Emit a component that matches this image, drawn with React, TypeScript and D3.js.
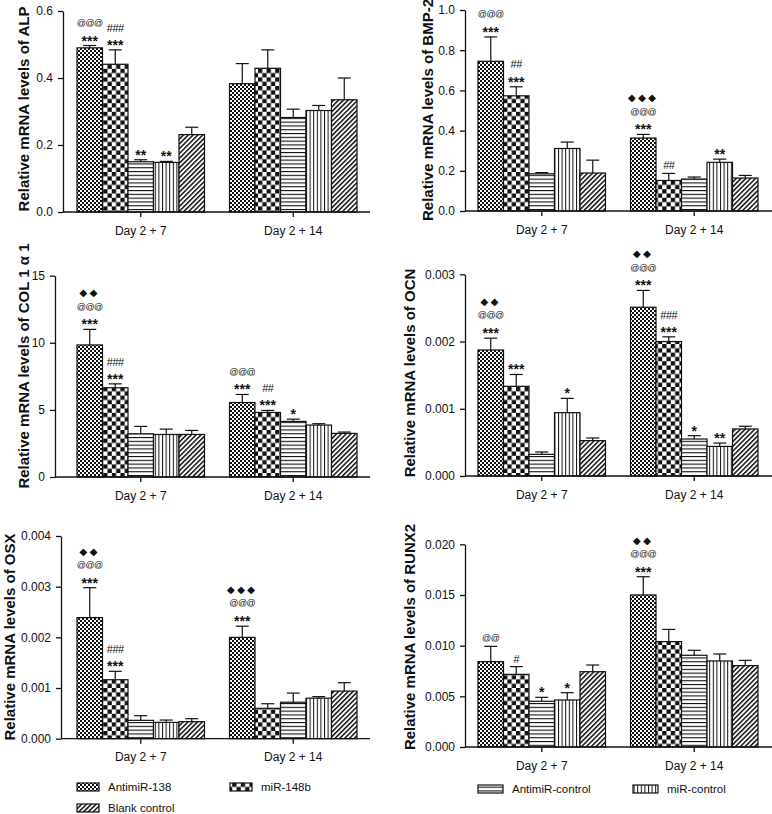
import React, { useEffect, useRef } from "react";
import * as d3 from "d3";

const groups = ["Day 2 + 7", "Day 2 + 14"];
const seriesNames = ["AntimiR-138", "miR-148b", "AntimiR-control", "miR-control", "Blank control"];

// rows = groups, columns = series
const alpMean = [[0.49, 0.441, 0.15, 0.148, 0.231], [0.383, 0.429, 0.282, 0.303, 0.335]];
const alpSem = [[0.007, 0.043, 0.006, 0.003, 0.022], [0.06, 0.055, 0.025, 0.015, 0.065]];
const alpMarks = [[["***", "@@@"], ["***", "###"], ["**"], ["**"], []], [[], [], [], [], []]];
const alpTicks = [0, 0.2, 0.4, 0.6];

const bmpMean = [[0.745, 0.573, 0.185, 0.311, 0.189], [0.363, 0.152, 0.159, 0.242, 0.164]];
const bmpSem = [[0.121, 0.045, 0.006, 0.032, 0.064], [0.018, 0.035, 0.01, 0.016, 0.013]];
const bmpMarks = [[["***", "@@@"], ["***", "##"], [], [], []], [["***", "@@@", "◆◆◆"], ["##"], [], ["**"], []]];
const bmpTicks = [0, 0.2, 0.4, 0.6, 0.8, 1.0];

const colMean = [[9.84, 6.65, 3.22, 3.17, 3.17], [5.55, 4.81, 4.14, 3.87, 3.25]];
const colSem = [[1.16, 0.29, 0.55, 0.4, 0.3], [0.6, 0.15, 0.17, 0.1, 0.1]];
const colMarks = [[["***", "@@@", "◆◆"], ["***", "###"], [], [], []], [["***", "@@@"], ["***", "##"], ["*"], [], []]];
const colTicks = [0, 5, 10, 15];

const ocnMean = [[0.001874, 0.001334, 0.000322, 0.000942, 0.000526], [0.00251, 0.002, 0.00055, 0.00044, 0.0007]];
const ocnSem = [[0.000176, 0.000176, 0.000035, 0.000213, 0.000039], [0.00025, 0.00007, 0.00005, 0.00005, 0.00004]];
const ocnMarks = [[["***", "@@@", "◆◆"], ["***"], [], ["*"], []], [["***", "@@@", "◆◆"], ["***", "###"], ["*"], ["**"], []]];
const ocnTicks = [0, 0.001, 0.002, 0.003];

const osxMean = [[0.00239, 0.001164, 0.000362, 0.000322, 0.000336], [0.002, 0.0006, 0.00072, 0.0008, 0.00094]];
const osxSem = [[0.00059, 0.000166, 0.000092, 0.000046, 0.000059], [0.00022, 0.00009, 0.00018, 0.00003, 0.000165]];
const osxMarks = [[["***", "@@@", "◆◆"], ["***", "###"], [], [], []], [["***", "@@@", "◆◆◆"], [], [], [], []]];
const osxTicks = [0, 0.001, 0.002, 0.003, 0.004];

const runxMean = [[0.00842, 0.00717, 0.00451, 0.00464, 0.00743], [0.015, 0.0104, 0.00905, 0.00849, 0.00803]];
const runxSem = [[0.00151, 0.00076, 0.00039, 0.00072, 0.00066], [0.0018, 0.0012, 0.00049, 0.00069, 0.00052]];
const runxMarks = [[["@@"], ["#"], ["*"], ["*"], []], [["***", "@@@", "◆◆"], [], [], [], []]];
const runxTicks = [0, 0.005, 0.01, 0.015, 0.02];

const FONT = "'Liberation Sans', Arial, Helvetica, sans-serif";

const panels = [
  { title: "Relative mRNA levels of ALP", mean: alpMean, sem: alpSem, marks: alpMarks, ticks: alpTicks, fmt: ".1f", left: 63, right: 370, top: 11, bottom: 212, barX: 77, titleX: 29, titleY: 109 },
  { title: "Relative mRNA levels of BMP-2", mean: bmpMean, sem: bmpSem, marks: bmpMarks, ticks: bmpTicks, fmt: ".1f", left: 465, right: 772, top: 10, bottom: 211, barX: 478, titleX: 433, titleY: 110 },
  { title: "Relative mRNA levels of COL 1 α 1", mean: colMean, sem: colSem, marks: colMarks, ticks: colTicks, fmt: "d", left: 55, right: 370, top: 275.7, bottom: 477, barX: 77, titleX: 29, titleY: 366 },
  { title: "Relative mRNA levels of OCN", mean: ocnMean, sem: ocnSem, marks: ocnMarks, ticks: ocnTicks, fmt: ".3f", left: 465, right: 772, top: 274.3, bottom: 476, barX: 478, titleX: 415, titleY: 373 },
  { title: "Relative mRNA levels of OSX", mean: osxMean, sem: osxSem, marks: osxMarks, ticks: osxTicks, fmt: ".3f", left: 61, right: 370, top: 536, bottom: 738.7, barX: 77, titleX: 15, titleY: 637 },
  { title: "Relative mRNA levels of RUNX2", mean: runxMean, sem: runxSem, marks: runxMarks, ticks: runxTicks, fmt: ".3f", left: 465, right: 772, top: 544.3, bottom: 747, barX: 478, titleX: 415, titleY: 637 },
];

const legendItems = [
  { name: "AntimiR-138", x: 77, y: 787, w: 22 },
  { name: "miR-148b", x: 230, y: 787, w: 22 },
  { name: "Blank control", x: 77, y: 808, w: 22 },
  { name: "AntimiR-control", x: 478, y: 789, w: 25 },
  { name: "miR-control", x: 633, y: 789, w: 25 },
];

function markStyle(s: string) {
  if (s.startsWith("*")) return { size: 14, weight: "bold", dy: 8, spacing: 0 };
  if (s.startsWith("@")) return { size: 9, weight: "normal", dy: 2.5, spacing: -0.5 };
  if (s.startsWith("#")) return { size: 11, weight: "normal", dy: 4, spacing: -0.5 };
  return { size: 10, weight: "normal", dy: 3.5, spacing: 2.5 };
}

export default function App() {
  const svgRef = useRef<SVGSVGElement>(null);

  useEffect(() => {
    const svg = d3.select(svgRef.current);
    svg.selectAll("*").remove();

    // fill patterns, one per series
    const defs = svg.append("defs");
    const pat = (id: string, w: number, h: number) =>
      defs.append("pattern").attr("id", id).attr("patternUnits", "userSpaceOnUse").attr("width", w).attr("height", h);

    const p0 = pat("pat0", 4, 4);
    p0.append("rect").attr("width", 4).attr("height", 4).attr("fill", "#fff");
    p0.append("rect").attr("width", 2).attr("height", 2).attr("fill", "#111");
    p0.append("rect").attr("x", 2).attr("y", 2).attr("width", 2).attr("height", 2).attr("fill", "#111");

    const c = 4.3;
    const p1 = pat("pat1", c * 2, c * 2);
    p1.append("rect").attr("width", c * 2).attr("height", c * 2).attr("fill", "#fff");
    p1.append("rect").attr("width", c).attr("height", c).attr("fill", "#111");
    p1.append("rect").attr("x", c).attr("y", c).attr("width", c).attr("height", c).attr("fill", "#111");

    const p2 = pat("pat2", 4, 3.8);
    p2.append("rect").attr("width", 4).attr("height", 3.8).attr("fill", "#fff");
    p2.append("rect").attr("y", 0).attr("width", 4).attr("height", 1.1).attr("fill", "#111");

    const p3 = pat("pat3", 3.6, 4);
    p3.append("rect").attr("width", 3.6).attr("height", 4).attr("fill", "#fff");
    p3.append("rect").attr("x", 0).attr("width", 1).attr("height", 4).attr("fill", "#111");

    const p4 = pat("pat4", 3.4, 4).attr("patternTransform", "rotate(45)");
    p4.append("rect").attr("width", 3.4).attr("height", 4).attr("fill", "#fff");
    p4.append("rect").attr("x", 0).attr("width", 1.5).attr("height", 4).attr("fill", "#111");

    const fillOf = (i: number) => `url(#pat${i})`;

    panels.forEach((p) => {
      const g = svg.append("g");
      const y = d3.scaleLinear().domain([0, p.ticks[p.ticks.length - 1]]).range([p.bottom, p.top]);
      const x0 = d3.scaleBand().domain(groups).range([p.barX, p.barX + 280]).paddingInner(0.164).paddingOuter(0);
      const x1 = d3.scaleBand().domain(seriesNames).range([0, x0.bandwidth()]);

      groups.forEach((grp, gi) => {
        seriesNames.forEach((s, si) => {
          const v = p.mean[gi][si];
          const e = p.sem[gi][si];
          const bx = (x0(grp) as number) + (x1(s) as number);
          const cx = bx + x1.bandwidth() / 2;
          g.append("rect")
            .attr("x", bx)
            .attr("y", y(v))
            .attr("width", x1.bandwidth())
            .attr("height", y(0) - y(v))
            .attr("fill", fillOf(si))
            .attr("stroke", "#111")
            .attr("stroke-width", 1.2);
          const yt = y(v + e);
          g.append("line").attr("x1", cx).attr("x2", cx).attr("y1", y(v)).attr("y2", yt)
            .attr("stroke", "#111").attr("stroke-width", 1.2);
          g.append("line").attr("x1", cx - 6.5).attr("x2", cx + 6.5).attr("y1", yt).attr("y2", yt)
            .attr("stroke", "#111").attr("stroke-width", 1.2);

          p.marks[gi][si].forEach((m: string, mi: number) => {
            const st = markStyle(m);
            g.append("text")
              .attr("x", cx)
              .attr("y", yt - 8 - 14.3 * mi + st.dy)
              .attr("text-anchor", "middle")
              .attr("font-family", m.startsWith("◆") ? "'DejaVu Sans', sans-serif" : FONT)
              .attr("font-size", st.size)
              .attr("font-weight", st.weight)
              .attr("letter-spacing", st.spacing)
              .attr("fill", "#111")
              .text(m);
          });
        });
      });

      // y axis
      const ya = g.append("g").attr("transform", `translate(${p.left},0)`)
        .call(d3.axisLeft(y).tickValues(p.ticks).tickFormat(d3.format(p.fmt)).tickSize(5).tickSizeOuter(0).tickPadding(5));
      ya.selectAll("path,line").attr("stroke", "#111").attr("stroke-width", 1.3);
      ya.selectAll("text").attr("font-size", 12).attr("font-family", FONT).attr("fill", "#111");

      // x axis
      const xa = g.append("g").attr("transform", `translate(0,${p.bottom})`)
        .call(d3.axisBottom(x0).tickSize(5).tickSizeOuter(0).tickPadding(9));
      xa.select(".domain").remove();
      xa.selectAll("line").attr("stroke", "#111").attr("stroke-width", 1.3);
      xa.selectAll("text").attr("font-size", 12).attr("font-family", FONT).attr("fill", "#111");
      g.append("line").attr("x1", p.left).attr("x2", p.right).attr("y1", p.bottom).attr("y2", p.bottom)
        .attr("stroke", "#111").attr("stroke-width", 1.3);

      // axis title
      g.append("text")
        .attr("transform", `translate(${p.titleX},${p.titleY}) rotate(-90)`)
        .attr("text-anchor", "middle")
        .attr("font-family", FONT)
        .attr("font-size", 15)
        .attr("font-weight", "bold")
        .attr("fill", "#111")
        .text(p.title);
    });

    // legend
    legendItems.forEach((l) => {
      const si = seriesNames.indexOf(l.name);
      svg.append("rect").attr("x", l.x).attr("y", l.y - 4).attr("width", l.w).attr("height", 8)
        .attr("fill", fillOf(si)).attr("stroke", "#111").attr("stroke-width", 1.2);
      svg.append("text").attr("x", l.x + l.w + 9).attr("y", l.y + 4)
        .attr("font-family", FONT).attr("font-size", 11.5).attr("fill", "#111").text(l.name);
    });
  }, []);

  return (
    <div style={{ position: "absolute", left: 0, top: 0 }}>
      <svg ref={svgRef} width={772} height={814} style={{ display: "block", background: "#fff" }} />
    </div>
  );
}
